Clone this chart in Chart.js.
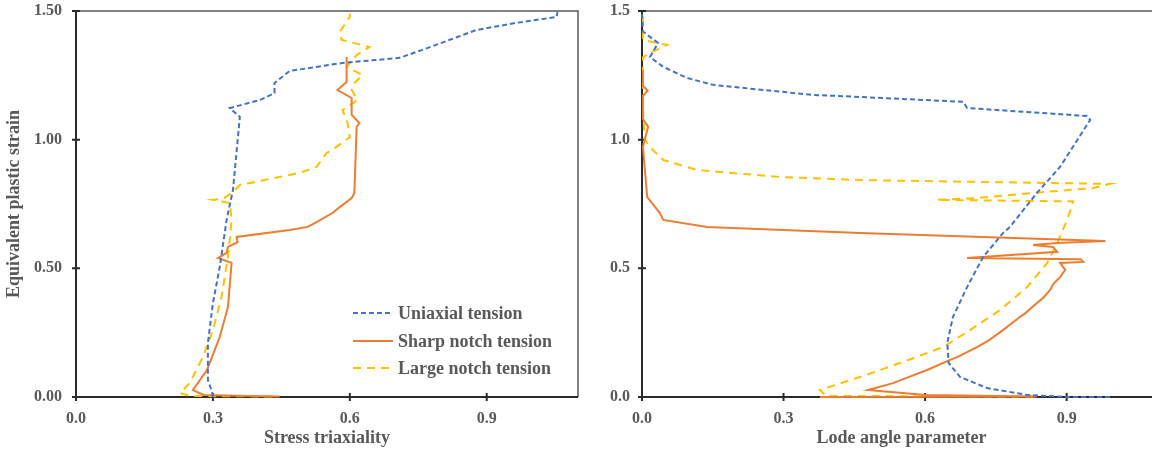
<!DOCTYPE html>
<html>
<head>
<meta charset="utf-8">
<script src="https://cdn.jsdelivr.net/npm/chart.js@4/dist/chart.umd.min.js"></script>
<style>
html, body { margin: 0; padding: 0; background: #fff; overflow: hidden; width: 1152px; height: 451px; position: relative; }
canvas { position: absolute; top: 0; }
#left { left: 0; }
#right { left: 576px; }
</style>
</head>
<body>
<canvas id="left" width="582" height="451"></canvas>
<canvas id="right" width="620" height="451"></canvas>
<script>
// tick values
var xTicks = [0, 0.3, 0.6, 0.9];
var yTicks = [0, 0.5, 1.0, 1.5];

// left panel: stress triaxiality vs equivalent plastic strain
var triUniX = [0.300, 0.298, 0.289, 0.289, 0.289, 0.300, 0.315, 0.330, 0.344, 0.359, 0.337, 0.403, 0.435, 0.435, 0.468, 0.584, 0.709, 0.759, 0.877, 0.965, 1.053, 1.055];
var triUniY = [0.000, 0.020, 0.066, 0.117, 0.210, 0.365, 0.505, 0.688, 0.805, 1.088, 1.123, 1.154, 1.181, 1.220, 1.267, 1.298, 1.318, 1.349, 1.426, 1.454, 1.477, 1.496];

var triSharpX = [0.446, 0.380, 0.280, 0.256, 0.287, 0.315, 0.333, 0.341, 0.311, 0.330, 0.333, 0.354, 0.352, 0.468, 0.508, 0.527, 0.562, 0.578, 0.604, 0.610, 0.615, 0.621, 0.604, 0.604, 0.573, 0.593, 0.593];
var triSharpY = [0.002, 0.004, 0.008, 0.027, 0.105, 0.233, 0.350, 0.521, 0.540, 0.560, 0.583, 0.602, 0.622, 0.649, 0.661, 0.680, 0.715, 0.738, 0.773, 0.793, 1.049, 1.065, 1.096, 1.162, 1.193, 1.224, 1.321];

var triLargeX = [0.430, 0.250, 0.228, 0.249, 0.278, 0.300, 0.319, 0.333, 0.341, 0.337, 0.300, 0.322, 0.344, 0.359, 0.381, 0.490, 0.527, 0.549, 0.571, 0.600, 0.595, 0.584, 0.617, 0.604, 0.610, 0.628, 0.593, 0.615, 0.643, 0.582, 0.578, 0.600, 0.600];
var triLargeY = [0.002, 0.004, 0.015, 0.054, 0.155, 0.260, 0.390, 0.544, 0.688, 0.754, 0.766, 0.770, 0.797, 0.824, 0.832, 0.871, 0.894, 0.948, 0.972, 1.010, 1.065, 1.115, 1.154, 1.193, 1.220, 1.251, 1.283, 1.329, 1.360, 1.388, 1.419, 1.477, 1.490];

// right panel: Lode angle parameter vs equivalent plastic strain
var lodeUniX = [0.992, 0.901, 0.816, 0.731, 0.674, 0.650, 0.647, 0.659, 0.689, 0.723, 0.765, 0.780, 0.837, 0.886, 0.950, 0.943, 0.689, 0.681, 0.462, 0.363, 0.257, 0.151, 0.095, 0.045, 0.017, 0.034, 0.002, 0.000];
var lodeUniY = [0.000, 0.000, 0.008, 0.035, 0.078, 0.132, 0.210, 0.311, 0.427, 0.544, 0.637, 0.661, 0.793, 0.894, 1.077, 1.092, 1.123, 1.147, 1.166, 1.174, 1.193, 1.213, 1.240, 1.283, 1.321, 1.376, 1.420, 1.496];

var lodeSharpX = [0.377, 0.837, 0.600, 0.479, 0.532, 0.604, 0.653, 0.668, 0.710, 0.735, 0.765, 0.801, 0.812, 0.837, 0.850, 0.865, 0.872, 0.886, 0.897, 0.886, 0.935, 0.930, 0.689, 0.880, 0.871, 0.829, 0.880, 0.982, 0.462, 0.138, 0.045, 0.038, 0.011, 0.002, 0.013, 0.002, 0.002, 0.012, 0.002, 0.002];
var lodeSharpY = [0.000, 0.002, 0.008, 0.027, 0.054, 0.105, 0.144, 0.155, 0.194, 0.220, 0.260, 0.311, 0.325, 0.365, 0.385, 0.416, 0.440, 0.466, 0.494, 0.521, 0.525, 0.535, 0.540, 0.564, 0.583, 0.591, 0.598, 0.606, 0.637, 0.661, 0.688, 0.715, 0.777, 0.972, 1.050, 1.080, 1.170, 1.190, 1.210, 1.270];

var lodeLargeX = [0.830, 0.390, 0.377, 0.462, 0.505, 0.547, 0.638, 0.695, 0.759, 0.816, 0.859, 0.880, 0.901, 0.914, 0.625, 0.710, 0.829, 0.956, 0.992, 0.462, 0.293, 0.117, 0.045, 0.023, 0.006, 0.002, 0.002, 0.020, 0.053, 0.002, 0.002, 0.000];
var lodeLargeY = [0.002, 0.004, 0.027, 0.078, 0.105, 0.132, 0.194, 0.260, 0.338, 0.427, 0.521, 0.598, 0.688, 0.760, 0.766, 0.773, 0.793, 0.812, 0.828, 0.843, 0.855, 0.882, 0.921, 0.960, 1.000, 1.115, 1.320, 1.340, 1.368, 1.387, 1.465, 1.490];

var seriesNames = ['Uniaxial tension', 'Sharp notch tension', 'Large notch tension'];

var BLUE = '#4472C4';
var ORANGE = '#ED7D31';
var YELLOW = '#FFC000';
var TEXT = '#595959';
var FONT = "'Liberation Serif', 'Times New Roman', serif";

function pts(xs, ys) {
    var out = [];
    for (var i = 0; i < xs.length; i++) {
        out.push({x: xs[i], y: ys[i]});
    }
    return out;
}

function series(label, xs, ys, color, dash) {
    return {
        label: label,
        data: pts(xs, ys),
        showLine: true,
        borderColor: color,
        backgroundColor: color,
        borderWidth: 2,
        borderDash: dash,
        pointRadius: 0,
        tension: 0,
        clip: false
    };
}

// box, axes and cross ticks
var framePlugin = {
    id: 'frame',
    beforeDatasetsDraw: function(chart) {
        var ctx = chart.ctx;
        var a = chart.chartArea;
        var xs = chart.scales.x, ys = chart.scales.y;
        ctx.save();
        ctx.strokeStyle = '#5a5a5a';
        ctx.lineWidth = 1.5;
        ctx.beginPath();
        ctx.moveTo(a.left, a.top);
        ctx.lineTo(a.right, a.top);
        ctx.lineTo(a.right, a.bottom);
        ctx.stroke();
        ctx.strokeStyle = '#2b2b2b';
        ctx.lineWidth = 2;
        ctx.beginPath();
        ctx.moveTo(a.left, a.top);
        ctx.lineTo(a.left, a.bottom);
        ctx.lineTo(a.right, a.bottom);
        for (var i = 0; i < xTicks.length; i++) {
            var px = xs.getPixelForValue(xTicks[i]);
            ctx.moveTo(px, a.bottom - 4);
            ctx.lineTo(px, a.bottom + 4);
        }
        for (var j = 0; j < yTicks.length; j++) {
            var py = ys.getPixelForValue(yTicks[j]);
            ctx.moveTo(a.left - 4, py);
            ctx.lineTo(a.left + 4, py);
        }
        ctx.stroke();
        ctx.restore();
    }
};

var legendPlugin = {
    id: 'inlegend',
    afterDraw: function(chart) {
        var ctx = chart.ctx;
        var rows = [313, 341, 368];
        ctx.save();
        ctx.font = 'bold 18px ' + FONT;
        ctx.textBaseline = 'middle';
        ctx.fillStyle = TEXT;
        chart.data.datasets.forEach(function(ds, i) {
            ctx.strokeStyle = ds.borderColor;
            ctx.lineWidth = 2;
            ctx.setLineDash(ds.borderDash);
            ctx.beginPath();
            ctx.moveTo(353, rows[i]);
            ctx.lineTo(393, rows[i]);
            ctx.stroke();
            ctx.setLineDash([]);
            ctx.fillText(ds.label, 398, rows[i] + 1);
        });
        ctx.restore();
    }
};

function makeChart(id, d) {
    return new Chart(document.getElementById(id), {
        type: 'scatter',
        data: {
            datasets: [
                series(seriesNames[0], d.uniX, d.uniY, BLUE, [5, 3]),
                series(seriesNames[1], d.sharpX, d.sharpY, ORANGE, []),
                series(seriesNames[2], d.largeX, d.largeY, YELLOW, [8, 6])
            ]
        },
        options: {
            responsive: false,
            animation: false,
            devicePixelRatio: 1,
            layout: {padding: {top: 11, right: d.padRight, left: 0, bottom: 0}},
            plugins: {legend: {display: false}, tooltip: {enabled: false}},
            scales: {
                x: {
                    type: 'linear',
                    min: 0,
                    max: 1.1,
                    afterBuildTicks: function(s) { s.ticks = xTicks.map(function(v) { return {value: v}; }); },
                    afterFit: function(s) { s.height = 54; s.paddingLeft = 0; s.paddingRight = 0; },
                    grid: {display: false, drawTicks: false},
                    border: {display: false},
                    ticks: {
                        padding: 12,
                        color: TEXT,
                        font: {family: FONT, size: 16, weight: 'bold'},
                        callback: function(v) { return Number(v).toFixed(1); }
                    },
                    title: {
                        display: true,
                        text: d.xTitle,
                        color: TEXT,
                        font: {family: FONT, size: 18, weight: 'bold'},
                        padding: {top: 0, bottom: 2}
                    }
                },
                y: {
                    type: 'linear',
                    min: 0,
                    max: 1.5,
                    afterBuildTicks: function(s) { s.ticks = yTicks.map(function(v) { return {value: v}; }); },
                    afterFit: function(s) { s.width = d.yWidth; s.paddingTop = 0; s.paddingBottom = 0; },
                    grid: {display: false, drawTicks: false},
                    border: {display: false},
                    ticks: {
                        padding: d.yPad,
                        color: TEXT,
                        font: {family: FONT, size: 16, weight: 'bold'},
                        callback: function(v) { return Number(v).toFixed(d.yDigits); }
                    },
                    title: {
                        display: d.yTitle !== '',
                        text: d.yTitle,
                        color: TEXT,
                        font: {family: FONT, size: 18, weight: 'bold'},
                        padding: {top: 4, bottom: 0}
                    }
                }
            }
        },
        plugins: d.legend ? [framePlugin, legendPlugin] : [framePlugin]
    });
}

makeChart('left', {
    uniX: triUniX, uniY: triUniY,
    sharpX: triSharpX, sharpY: triSharpY,
    largeX: triLargeX, largeY: triLargeY,
    xTitle: 'Stress triaxiality',
    yTitle: 'Equivalent plastic strain',
    yWidth: 76, yPad: 14, yDigits: 2,
    padRight: 4,
    legend: true
});

makeChart('right', {
    uniX: lodeUniX, uniY: lodeUniY,
    sharpX: lodeSharpX, sharpY: lodeSharpY,
    largeX: lodeLargeX, largeY: lodeLargeY,
    xTitle: 'Lode angle parameter',
    yTitle: '',
    yWidth: 66, yPad: 12, yDigits: 1,
    padRight: 35,
    legend: false
});
</script>
</body>
</html>
